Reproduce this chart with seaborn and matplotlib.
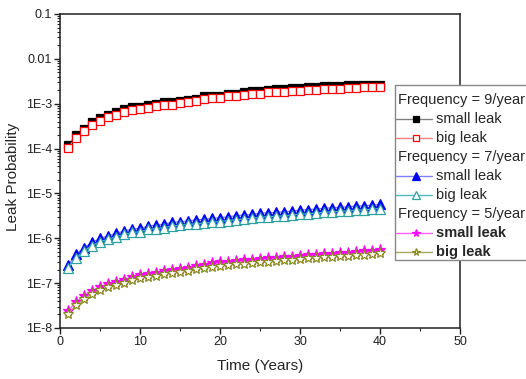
import numpy as np
import pandas as pd
import matplotlib
matplotlib.use('Agg')
import matplotlib.pyplot as plt
from matplotlib.lines import Line2D
from matplotlib.patches import Rectangle
from matplotlib.ticker import FixedLocator, FuncFormatter, LogLocator, MultipleLocator
import seaborn as sns

years = list(range(1, 41))

small_9 = [1.19e-4, 1.98e-4, 2.8e-4, 3.9e-4, 4.7e-4, 5.7e-4, 6.5e-4, 7.5e-4, 8.4e-4, 8.5e-4,
           9.2e-4, 1.0e-3, 1.07e-3, 1.09e-3, 1.17e-3, 1.23e-3, 1.29e-3, 1.46e-3, 1.51e-3, 1.51e-3,
           1.65e-3, 1.67e-3, 1.79e-3, 1.88e-3, 1.88e-3, 2.02e-3, 2.13e-3, 2.13e-3, 2.24e-3, 2.24e-3,
           2.31e-3, 2.31e-3, 2.43e-3, 2.43e-3, 2.43e-3, 2.56e-3, 2.56e-3, 2.65e-3, 2.65e-3, 2.65e-3]
big_9 = [1.05e-4, 1.74e-4, 2.46e-4, 3.43e-4, 4.14e-4, 5.0e-4, 5.7e-4, 6.6e-4, 7.4e-4, 7.5e-4,
         8.1e-4, 8.8e-4, 9.4e-4, 9.6e-4, 1.03e-3, 1.08e-3, 1.14e-3, 1.28e-3, 1.33e-3, 1.33e-3,
         1.45e-3, 1.47e-3, 1.58e-3, 1.65e-3, 1.65e-3, 1.78e-3, 1.87e-3, 1.87e-3, 1.97e-3, 1.97e-3,
         2.03e-3, 2.03e-3, 2.14e-3, 2.14e-3, 2.14e-3, 2.25e-3, 2.25e-3, 2.33e-3, 2.33e-3, 2.33e-3]
small_7 = [2.52e-7, 4.37e-7, 6.13e-7, 8.1e-7, 9.95e-7, 1.12e-6, 1.29e-6, 1.45e-6, 1.6e-6, 1.66e-6,
           1.87e-6, 1.97e-6, 2.07e-6, 2.26e-6, 2.34e-6, 2.46e-6, 2.55e-6, 2.64e-6, 2.78e-6, 2.87e-6,
           3.02e-6, 3.18e-6, 3.3e-6, 3.42e-6, 3.6e-6, 3.71e-6, 3.78e-6, 3.9e-6, 4.05e-6, 4.26e-6,
           4.33e-6, 4.5e-6, 4.65e-6, 4.8e-6, 4.9e-6, 5.05e-6, 5.23e-6, 5.3e-6, 5.5e-6, 5.7e-6]
big_7 = [2.2e-7, 3.7e-7, 5.2e-7, 6.9e-7, 8.4e-7, 9.5e-7, 1.09e-6, 1.22e-6, 1.35e-6, 1.4e-6,
         1.57e-6, 1.65e-6, 1.73e-6, 1.88e-6, 1.95e-6, 2.04e-6, 2.11e-6, 2.18e-6, 2.29e-6, 2.36e-6,
         2.48e-6, 2.6e-6, 2.7e-6, 2.8e-6, 2.94e-6, 3.03e-6, 3.08e-6, 3.18e-6, 3.3e-6, 3.47e-6,
         3.52e-6, 3.66e-6, 3.78e-6, 3.9e-6, 3.98e-6, 4.1e-6, 4.24e-6, 4.3e-6, 4.46e-6, 4.6e-6]
small_5 = [2.4e-8, 3.8e-8, 5.3e-8, 6.8e-8, 8.2e-8, 9.5e-8, 1.08e-7, 1.2e-7, 1.35e-7, 1.5e-7,
           1.62e-7, 1.72e-7, 1.86e-7, 1.97e-7, 2.1e-7, 2.22e-7, 2.4e-7, 2.6e-7, 2.75e-7, 2.9e-7,
           3.0e-7, 3.1e-7, 3.2e-7, 3.3e-7, 3.45e-7, 3.55e-7, 3.65e-7, 3.8e-7, 3.9e-7, 4.1e-7,
           4.2e-7, 4.3e-7, 4.45e-7, 4.55e-7, 4.7e-7, 4.8e-7, 4.95e-7, 5.1e-7, 5.25e-7, 5.5e-7]
big_5 = [2.1e-8, 3.2e-8, 4.5e-8, 5.8e-8, 7.0e-8, 8.1e-8, 9.2e-8, 1.02e-7, 1.15e-7, 1.27e-7,
         1.38e-7, 1.46e-7, 1.58e-7, 1.67e-7, 1.78e-7, 1.89e-7, 2.04e-7, 2.2e-7, 2.34e-7, 2.46e-7,
         2.55e-7, 2.63e-7, 2.72e-7, 2.8e-7, 2.93e-7, 3.02e-7, 3.1e-7, 3.23e-7, 3.32e-7, 3.48e-7,
         3.57e-7, 3.65e-7, 3.78e-7, 3.87e-7, 4.0e-7, 4.08e-7, 4.2e-7, 4.33e-7, 4.46e-7, 4.68e-7]

y_ticks = [1e-8, 1e-7, 1e-6, 1e-5, 1e-4, 1e-3, 1e-2, 1e-1]
y_tick_labels = ['1E-8', '1E-7', '1E-6', '1E-5', '1E-4', '1E-3', '0.01', '0.1']

# (values, label, marker, marker face, marker edge, line colour, marker size, bold label)
series = [
    ('Frequency = 9/year', [
        (small_9, 'small leak', 's', '#000000', '#000000', '#808080', 6.2, False),
        (big_9, 'big leak', 's', 'white', '#ff0000', '#ff8080', 6.2, False)]),
    ('Frequency = 7/year', [
        (small_7, 'small leak', '^', '#0000ff', '#0000ff', '#8080ff', 7.5, False),
        (big_7, 'big leak', '^', 'white', '#2ea0a0', '#50b8b8', 7.5, False)]),
    ('Frequency = 5/year', [
        (small_5, 'small leak', '*', '#ff00ff', '#ff00ff', '#ff60ff', 8, True),
        (big_5, 'big leak', '*', 'white', '#8a8a20', '#a8a860', 8, True)]),
]

sns.set_style('ticks')
plt.rcParams['font.family'] = ['Liberation Sans', 'DejaVu Sans']

W, H = 526, 379
fig = plt.figure(figsize=(W / 100, H / 100), dpi=100)
ax = fig.add_axes([60 / W, 1 - 328 / H, 400 / W, 314 / H])

for header, entries in series:
    for vals, label, mk, mfc, mec, lc, ms, bold in entries:
        df = pd.DataFrame({'t': years, 'p': vals})
        sns.lineplot(data=df, x='t', y='p', ax=ax, color=lc, lw=0.9, marker=mk,
                     markersize=ms, markerfacecolor=mfc, markeredgecolor=mec,
                     markeredgewidth=0.9, legend=False)

ax.set_yscale('log')
ax.set_xlim(0, 50)
ax.set_ylim(1e-8, 0.1)
ax.yaxis.set_major_locator(FixedLocator(y_ticks))
ax.yaxis.set_major_formatter(FuncFormatter(lambda v, p: y_tick_labels[y_ticks.index(v)] if v in y_ticks else ''))
ax.yaxis.set_minor_locator(LogLocator(base=10, subs=np.arange(2, 10), numticks=20))
ax.xaxis.set_major_locator(MultipleLocator(10))
ax.xaxis.set_minor_locator(MultipleLocator(5))
ax.tick_params(which='major', direction='out', length=4, width=1, labelsize=9, colors='#202020', pad=1.5)
ax.tick_params(which='minor', direction='out', length=2.5, width=0.8)
for s in ax.spines.values():
    s.set_color('#202020')
    s.set_linewidth(1.1)
ax.set_xlabel('Time (Years)', fontsize=11, labelpad=8)
ax.set_ylabel('Leak Probability', fontsize=11)
ax.yaxis.set_label_coords(-0.1, 0.48)


def fx(x):
    return x / W


def fy(y):
    return 1 - y / H


# legend drawn by hand so the group headers sit flush left
fig.add_artist(Rectangle((fx(394.5), fy(260)), fx(140), 175.5 / H, transform=fig.transFigure,
                         facecolor='white', edgecolor='#888888', lw=1, zorder=5))
row_y = 100
for header, entries in series:
    fig.text(fx(398), fy(row_y), header, fontsize=10.5, va='center', ha='left', zorder=6)
    row_y += 19
    for vals, label, mk, mfc, mec, lc, ms, bold in entries:
        fig.add_artist(Line2D([fx(396), fx(432)], [fy(row_y), fy(row_y)], transform=fig.transFigure,
                              color=lc, lw=1, zorder=6))
        fig.add_artist(Line2D([fx(416)], [fy(row_y)], transform=fig.transFigure, marker=mk,
                              markersize=ms * 0.7, markerfacecolor=mfc, markeredgecolor=mec,
                              markeredgewidth=0.9, zorder=7))
        fig.text(fx(436), fy(row_y), label, fontsize=10.5, va='center', ha='left', zorder=6,
                 fontweight='bold' if bold else 'normal')
        row_y += 19

fig.savefig('out.png', dpi=100)
